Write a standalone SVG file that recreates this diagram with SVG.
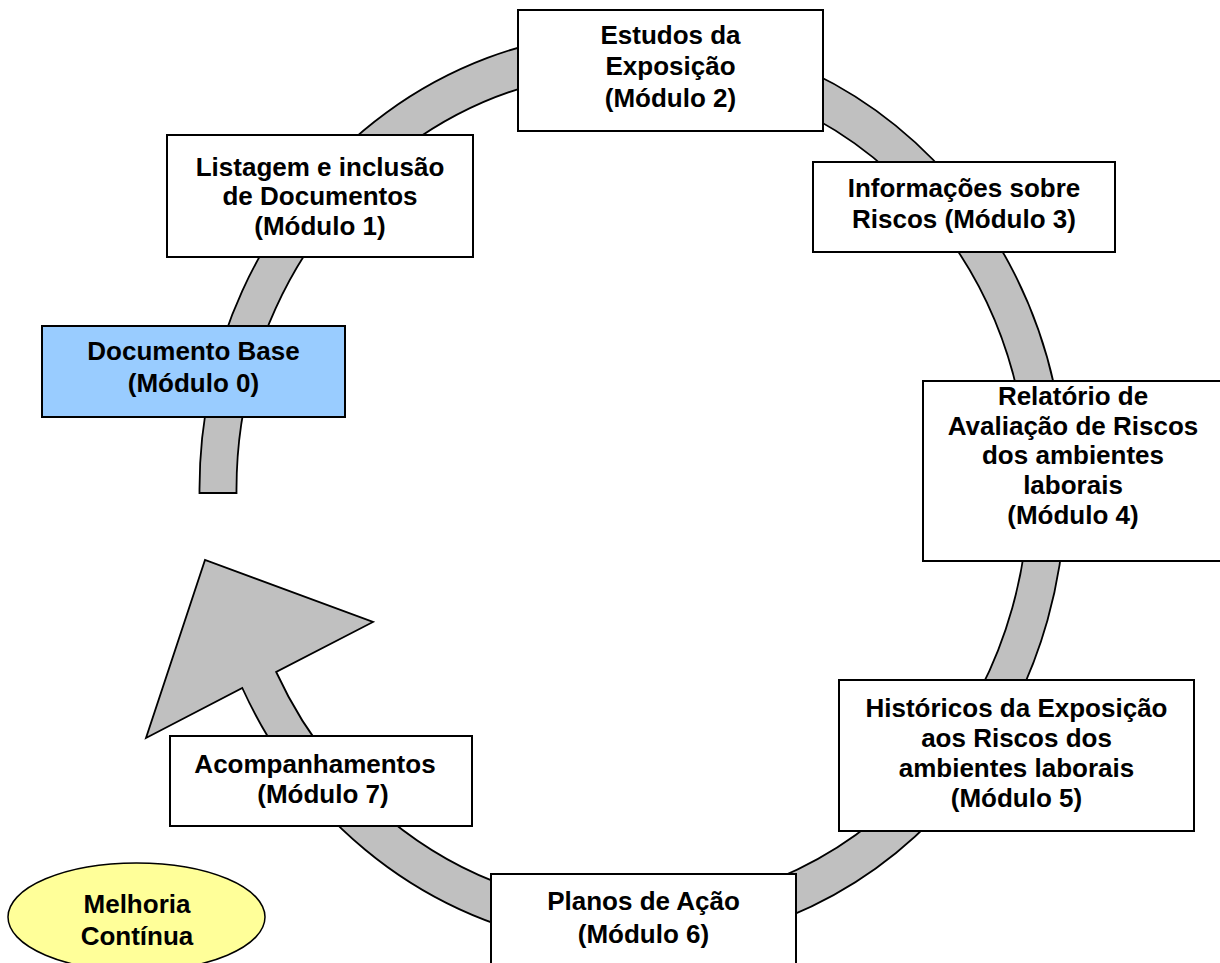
<svg xmlns="http://www.w3.org/2000/svg" width="1220" height="963" viewBox="0 0 1220 963">
<style>
.box{fill:#FFFFFF;stroke:#000;stroke-width:2}
.base{fill:#99CCFF;stroke:#000;stroke-width:2}
.oval{fill:#FFFF99;stroke:#000;stroke-width:1.5}
.ring{fill:#C0C0C0;stroke:#000;stroke-width:1.8;stroke-linejoin:miter}
text{font-family:"Liberation Sans",Arial,sans-serif;font-weight:bold;font-size:26px;fill:#000;text-anchor:middle}
</style>
<rect width="1220" height="963" fill="#FFFFFF"/>
<g id="connectors">
<path class="ring" d="M199.5,493 A433,458 0 1 1 242.3,688 L146,738 L205,560 L373,622 L276.2,672 A396,418 0 1 0 236.5,493 Z"/>
</g>
<g id="modulo2">
<rect class="box" x="518" y="10" width="305" height="121"/>
<text x="670.5" y="44">Estudos da</text>
<text x="670.5" y="75">Exposição</text>
<text x="670.5" y="107">(Módulo 2)</text>
</g>
<g id="modulo1">
<rect class="box" x="167" y="135" width="306" height="122"/>
<text x="320" y="176">Listagem e inclusão</text>
<text x="320" y="205">de Documentos</text>
<text x="320" y="235">(Módulo 1)</text>
</g>
<g id="modulo0">
<rect class="base" x="42" y="326" width="303" height="91"/>
<text x="193.5" y="360">Documento Base</text>
<text x="193.5" y="392">(Módulo 0)</text>
</g>
<g id="modulo3">
<rect class="box" x="813" y="162" width="302" height="90"/>
<text x="964" y="197">Informações sobre</text>
<text x="964" y="228">Riscos (Módulo 3)</text>
</g>
<g id="modulo4">
<rect class="box" x="923" y="381" width="299" height="180"/>
<text x="1073" y="405">Relatório de</text>
<text x="1073" y="435">Avaliação de Riscos</text>
<text x="1073" y="464">dos ambientes</text>
<text x="1073" y="494">laborais</text>
<text x="1073" y="524">(Módulo 4)</text>
</g>
<g id="modulo5">
<rect class="box" x="839" y="680" width="355" height="151"/>
<text x="1016.5" y="717">Históricos da Exposição</text>
<text x="1016.5" y="747">aos Riscos dos</text>
<text x="1016.5" y="777">ambientes laborais</text>
<text x="1016.5" y="807">(Módulo 5)</text>
</g>
<g id="modulo6">
<rect class="box" x="491" y="874" width="305" height="100"/>
<text x="643.5" y="910">Planos de Ação</text>
<text x="643.5" y="943">(Módulo 6)</text>
</g>
<g id="modulo7">
<rect class="box" x="170" y="736" width="302" height="90"/>
<text x="315" y="773">Acompanhamentos</text>
<text x="323" y="803">(Módulo 7)</text>
</g>
<g id="melhoria">
<ellipse class="oval" cx="136.5" cy="917" rx="128.5" ry="54"/>
<text x="137" y="913">Melhoria</text>
<text x="137" y="945">Contínua</text>
</g>
</svg>
